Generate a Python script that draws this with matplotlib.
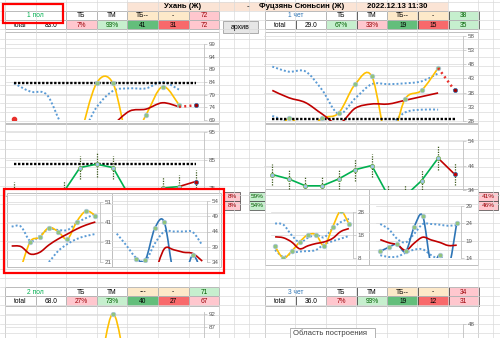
import numpy as np
import matplotlib
matplotlib.use("Agg")
import matplotlib.pyplot as plt
from matplotlib.patches import Rectangle, PathPatch
from matplotlib.path import Path

plt.rcParams['font.family'] = ['Liberation Sans', 'DejaVu Sans']
nan = np.nan

# ---- table data ----
header_texts = ['Ухань (Ж)', '-', 'Фуцзянь Сюньсин (Ж)', '2022.12.13 11:30']

t1_head = ['1 пол', 'ТБ', 'ТМ', 'ТБ--', '-', '72']
t1_row = ['total', '83.0', '7%', '93%', '41', '31', '72']
t2_head = ['1 чет', 'ТБ', 'ТМ', 'ТБ--', '-', '38']
t2_row = ['total', '29.0', '67%', '33%', '19', '15', '35']
t3_head = ['2 пол', 'ТБ', 'ТМ', '---', '-', '71']
t3_row = ['total', '68.0', '27%', '73%', '40', '27', '67']
t4_head = ['3 чет', 'ТБ', 'ТМ', 'ТБ--', '-', '34']
t4_row = ['total', '36.0', '7%', '93%', '19', '12', '31']

side_left = ['8%', '8%']
side_mid = ['59%', '54%']
side_right = ['41%', '46%']

# ---- chart data (category index 0..n-1) ----
# 1 пол, top
p1_level = 83.5
p1_band = [83.5, 80.2, 78.9, 66, 63, 74, 80.5, 81.5, 81.5, 84, 81, nan]
p1_yellow = [nan, nan, nan, nan, 62, 83.5, 83.5, 60, 71, 82.2, 75, nan]
p1_red = [nan, nan, nan, nan, nan, nan, 67, 72.5, 73.3, 75.8, 74.2, nan]
p1_red_dot = 69.3
p1_proj = [74.2, 74.8]

# 1 чет, top
p2_level = 28.6
p2_band_hi = [47.2, 45.4, 45.5, 39, 30.5, 36, 41, 41, 41.3, 42, 44.8, nan]
p2_band_lo = [29.8, 27.5, 24, 22, 21, 21, 22, 26, 31, 32, 32, nan]
p2_yellow = [20, 29, 24, 29, 30.8, 41, 43.8, 20, 35.7, 38.8, 46.7, nan]
p2_red = [38.8, 36.2, 34.5, 30.5, 27, 32.5, 34, 34, 35.3, 36.6, 37.9, nan]
p2_proj = [46.7, 38.8]

# 1 пол, middle
p3_level = 83.5
p3_green = [73, nan, nan, 73.5, 82.3, 83.5, 82.3, 72, 72, 75, 75.5]
p3_err = [4, nan, nan, 4, 4, 4.5, 4, nan, nan, 4, 4, 4]
p3_last = [75.5, 77.3]

# 1 чет, middle
p4_green = [40.3, 38.5, 35.7, 35.7, 38.5, 42.3, 44, 31.5, 31.5, 37.8, 47.0]
p4_err = [4.2, 4.2, 4.2, 4.2, 4.2, 4.5, 4.5, 4.5, 4.5, 4.5, 5, 4.5]
p4_last = [47.0, 40.4]

# lower row, small charts
pa_yellow = [nan, 18, 31.2, 33.3, 38.2, 36.2, 32.5, 41.2, 46.5, 44.2]
pa_red = [29, 28.7, 25, 25.8, 29.5, 32.5, 35, 37.5, 39.5, 41]
pa_hi = [38.7, 38.7, 31.5, 34, 37.5, 37, 37, 40.5, 43, 45]
pa_lo = [nan, nan, nan, 17, 21, 26.5, 30, 32.5, 34, 35]

pb_blue = [nan, nan, 35.1, 34.6, 45, 47.1, 30, 28, 36.2, 30]
pb_red = [nan, nan, nan, nan, 30, 38.3, 38, 37.2, 36.8, 34.3]
pb_hi = [43.3, 39.5, 35.5, 34.3, 40, 44, 44, 44, 43.8, 39.5]

pc_yellow = [13, 8, 10.9, 15, 18.1, 18.1, 13.3, 21.3, 28.3, 22.9]
pc_red = [17.2, 16.8, 15, 12, 13.3, 14.3, 15, 16.5, 19.5, 20.8]
pc_hi = [23, 22.5, 18, 14.8, 16.8, 18, 17, 20.8, 23.6, 25]
pc_lo = [11.5, 8.5, 10, 10.8, 11, 11.5, 14, 15.3, 16.4, 17.6]

pd_blue = [15.9, 17.1, 18, 15.9, 23, 26.1, 12, 14.9, 11, 24.1]
pd_red = [19.3, 18.4, 17.8, 16.2, 18.3, 20, 19.2, 18.5, 17.6, 17.7]
pd_hi = [23.8, 22.3, 19.5, 18.5, 21, 23.8, 23.8, 23.6, 23.3, 23.5]
pd_lo = [14.8, 14.3, 14.4, 15.5, 16.4, 16.5, 14.8, 13.5, 13, 13]

# 2 пол, bottom
p5_yellow = [nan, nan, nan, nan, nan, 62, 92, 62, nan, nan, nan, nan]

# colours
PEACH = '#fbe4d5'
CREAM = '#fde9c9'
PINK = '#ffc7ce'
PINK_TXT = '#9c0006'
LGREEN = '#c6efce'
LGREEN_TXT = '#006100'
GREEN = '#63be7b'
RED = '#f8696b'
YELLOW = '#ffc000'
DRED = '#c00000'
BLUE = '#5b9bd5'
DBLUE = '#2e75b6'
W, H = 500, 338

fig = plt.figure(figsize=(5, 3.38), dpi=100)
bg = fig.add_axes([0, 0, 1, 1])
bg.set_xlim(0, W)
bg.set_ylim(H, 0)
bg.axis('off')

# spreadsheet grid
cols = [5, 36, 66, 97, 127, 158, 189, 219, 234, 249, 265, 295, 326, 356, 387, 417, 448, 478, 493]
for c in cols:
    bg.plot([c, c], [0, H], color='#dadada', lw=0.5)
for k in range(38):
    y = 1.8 + 9.2 * k
    bg.plot([0, W], [y, y], color='#dadada', lw=0.5)


def cell(x0, x1, y0, y1, text, bg_col='white', color='black', bold=False, size=4.8):
    bg.add_patch(Rectangle((x0, y0), x1 - x0, y1 - y0, facecolor=bg_col,
                           edgecolor='#404040', lw=0.5))
    bg.text((x0 + x1) / 2, (y0 + y1) / 2 + 0.3, text, ha='center', va='center',
            fontsize=size, color=color, fontweight='bold' if bold else 'normal')


def table(x, y, head, row, head_bg, head_col, row_bg, row_col):
    """two-row score table, first header cell is merged"""
    w = 30.6
    hx = [x, x + 2 * w] + [x + (i + 3) * w for i in range(5)]
    for i, t in enumerate(head):
        cell(hx[i], hx[i + 1], y, y + 9.2, t, head_bg[i], head_col[i])
    for i, t in enumerate(row):
        cell(x + i * w, x + (i + 1) * w, y + 9.2, y + 18.4, t, row_bg[i], row_col[i])


# header band
bg.add_patch(Rectangle((127, 1.8), 321, 9.2, facecolor=PEACH, edgecolor='none'))
for t, xc, b in zip(header_texts, [183, 248, 302, 397], [True, False, True, True]):
    bg.text(xc, 6.6, t, ha='center', va='center', fontsize=5.6,
            fontweight='bold' if b else 'normal')

K = 'black'
table(5, 11, t1_head, t1_row,
      ['white', 'white', 'white', CREAM, CREAM, PINK], ['#00b050', K, K, K, K, PINK_TXT],
      ['white', 'white', PINK, LGREEN, GREEN, RED, PINK], [K, K, PINK_TXT, LGREEN_TXT, K, K, PINK_TXT])
table(265, 11, t2_head, t2_row,
      ['white', 'white', 'white', CREAM, CREAM, LGREEN], ['#2f75b5', K, K, K, K, LGREEN_TXT],
      ['white', 'white', LGREEN, PINK, GREEN, RED, LGREEN], [K, K, LGREEN_TXT, PINK_TXT, K, K, LGREEN_TXT])
table(5, 287.2, t3_head, t3_row,
      ['white', 'white', 'white', CREAM, CREAM, LGREEN], ['#00b050', K, K, K, K, LGREEN_TXT],
      ['white', 'white', PINK, LGREEN, GREEN, RED, PINK], [K, K, PINK_TXT, LGREEN_TXT, K, K, PINK_TXT])
table(265, 287.2, t4_head, t4_row,
      ['white', 'white', 'white', CREAM, CREAM, PINK], ['#2f75b5', K, K, K, K, PINK_TXT],
      ['white', 'white', PINK, LGREEN, GREEN, RED, PINK], [K, K, PINK_TXT, LGREEN_TXT, K, K, PINK_TXT])

# archive button
bg.add_patch(Rectangle((223, 21), 35, 12, facecolor='#e6e6e6', edgecolor='#a0a0a0', lw=0.6))
bg.text(240.5, 27.3, 'архив', ha='center', va='center', fontsize=5)

# side percentage boxes
for i in range(2):
    y0 = 192 + i * 9
    cell(224, 240, y0, y0 + 8.6, side_left[i], PINK, PINK_TXT, size=4.6)
    cell(249, 265, y0, y0 + 8.6, side_mid[i], LGREEN, LGREEN_TXT, size=4.6)
    cell(478, 498, y0, y0 + 8.6, side_right[i], PINK, PINK_TXT, size=4.6)

# chart frames
frames = [(5, 32, 219, 123), (265, 32, 478, 123), (5, 124, 219, 196), (265, 124, 478, 196),
          (7, 193, 112, 267), (112, 193, 221, 267), (265, 189, 369, 265), (369, 189, 478, 265),
          (5, 306, 219, 350), (265, 306, 478, 350)]
for x0, y0, x1, y1 in frames:
    bg.add_patch(Rectangle((x0, y0), x1 - x0, y1 - y0, facecolor='white',
                           edgecolor='#bfbfbf', lw=0.7))


def chart(x0, y0, x1, y1, ylim, ticks, n):
    ax = fig.add_axes([x0 / W, 1 - y1 / H, (x1 - x0) / W, (y1 - y0) / H])
    ax.set_xlim(-0.5, n - 0.5)
    ax.set_ylim(*ylim)
    ax.set_facecolor('none')
    for s in ['left', 'top', 'bottom']:
        ax.spines[s].set_visible(False)
    ax.spines['right'].set_color('#bfbfbf')
    ax.spines['right'].set_linewidth(0.6)
    ax.yaxis.tick_right()
    ax.set_yticks(ticks)
    ax.set_xticks([])
    ax.tick_params(axis='y', labelsize=4.5, labelcolor='#595959', color='#bfbfbf',
                   length=2, width=0.5, pad=1.5)
    ax.grid(axis='y', color='#d9d9d9', lw=0.5)
    ax.set_axisbelow(True)
    return ax


def smooth(ax, ys, **kw):
    """excel-like smoothed line, drawn as bezier curves between the points"""
    run = []
    for x, y in list(enumerate(ys)) + [(None, nan)]:
        if np.isnan(y):
            if len(run) > 1:
                verts = [run[0]]
                for i in range(len(run) - 1):
                    p0 = run[i - 1] if i > 0 else run[i]
                    p1, p2 = run[i], run[i + 1]
                    p3 = run[i + 2] if i + 2 < len(run) else p2
                    verts += [(p1[0] + (p2[0] - p0[0]) / 6, p1[1] + (p2[1] - p0[1]) / 6),
                              (p2[0] - (p3[0] - p1[0]) / 6, p2[1] - (p3[1] - p1[1]) / 6), p2]
                codes = [Path.MOVETO] + [Path.CURVE4] * (len(verts) - 1)
                ax.add_patch(PathPatch(Path(verts, codes), fill=False, **kw))
            run = []
        else:
            run.append((x, y))


dotted = dict(edgecolor=BLUE, lw=1.4, linestyle=(0, (1, 1.1)))
mk = dict(ls='none', marker='o', ms=3.3, mfc='#92c47d', mec='#a9c4e0', mew=0.5)
mk_g = dict(ls='none', marker='o', ms=3.0, mfc='#9dc3e6', mec='#70ad47', mew=0.5)
ebar = dict(colors='#3d5a1f', lw=0.9, linestyles=(0, (1, 1)))


def proj(ax, x, ys):
    ax.plot(x, ys, color='#e8302c', lw=1.8, ls=(0, (0.8, 1.3)))
    ax.plot(x[-1:], ys[-1:], ls='none', marker='o', ms=3, mfc='#a00000', mec=DBLUE, mew=0.5)


# top-left
ax = chart(5.75, 44, 203.75, 120, (69, 99), range(69, 100, 5), 12)
ax.plot([0, 11], [p1_level] * 2, color='black', lw=1.7, ls=(0, (1, 0.7)))
smooth(ax, p1_band, **dotted)
smooth(ax, p1_yellow, edgecolor=YELLOW, lw=1.2)
smooth(ax, p1_red, edgecolor=DRED, lw=1.2)
ax.plot(range(12), p1_yellow, **mk)
ax.plot([0], [p1_red_dot], ls='none', marker='o', ms=3, color='#e8302c')
proj(ax, [10, 11], p1_proj)

# top-right
ax = chart(264, 36, 463, 121, (28, 58), range(28, 59, 5), 12)
ax.plot([0, 11], [p2_level] * 2, color='black', lw=1.7, ls=(0, (1, 0.7)))
smooth(ax, p2_band_hi, **dotted)
smooth(ax, p2_band_lo, **dotted)
smooth(ax, p2_yellow, edgecolor=YELLOW, lw=1.2)
smooth(ax, p2_red, edgecolor=DRED, lw=1.2)
ax.plot(range(12), p2_yellow, **mk)
proj(ax, [10, 11], p2_proj)

# middle-left
ax = chart(5.75, 132, 203.75, 188, (75, 95), [75, 85, 95], 12)
ax.plot([0, 11], [p3_level] * 2, color='black', lw=1.7, ls=(0, (1, 0.7)))
g = np.array(p3_green + [p3_last[1]])
e = np.array(p3_err)
ax.vlines(range(12), g - e, g + e, **ebar)
ax.plot(range(11), p3_green, color='#00b050', lw=1.2)
ax.plot([10, 11], p3_last, color=DRED, lw=1.2)
ax.plot(range(11), p3_green, **mk_g)
ax.plot([11], p3_last[1:], ls='none', marker='o', ms=3, mfc='#c00000', mec=DBLUE, mew=0.5)

# middle-right
ax = chart(264, 141, 463, 190, (34, 54), [34, 44, 54], 12)
g = np.array(p4_green + [p4_last[1]])
e = np.array(p4_err)
ax.vlines(range(12), g - e, g + e, **ebar)
ax.plot(range(11), p4_green, color='#00b050', lw=1.2)
ax.plot([10, 11], p4_last, color=DRED, lw=1.2)
ax.plot(range(11), p4_green, **mk_g)
ax.plot([11], p4_last[1:], ls='none', marker='o', ms=3, mfc='#c00000', mec=DBLUE, mew=0.5)

# lower row
ax = chart(7, 202, 100, 262, (21, 51), [21, 31, 41, 51], 10)
smooth(ax, pa_hi, **dotted)
smooth(ax, pa_lo, **dotted)
smooth(ax, pa_yellow, edgecolor=YELLOW, lw=1.2)
smooth(ax, pa_red, edgecolor=DRED, lw=1.2)
ax.plot(range(2, 10), pa_yellow[2:], **mk)

ax = chart(112, 201, 207, 262, (34, 54), range(34, 55, 5), 10)
smooth(ax, pb_hi, **dotted)
smooth(ax, pb_blue, edgecolor=DBLUE, lw=1.2)
smooth(ax, pb_red, edgecolor=DRED, lw=1.2)
ax.plot([2, 3, 4, 5, 8], [pb_blue[i] for i in [2, 3, 4, 5, 8]], **mk)

ax = chart(271, 212, 353, 258, (8, 28), [8, 18, 28], 10)
smooth(ax, pc_hi, **dotted)
smooth(ax, pc_lo, **dotted)
smooth(ax, pc_yellow, edgecolor=YELLOW, lw=1.2)
smooth(ax, pc_red, edgecolor=DRED, lw=1.2)
ax.plot(range(10), pc_yellow, **mk)

ax = chart(376, 206, 461, 258, (14, 29), [14, 19, 24, 29], 10)
smooth(ax, pd_hi, **dotted)
smooth(ax, pd_lo, **dotted)
smooth(ax, pd_blue, edgecolor=DBLUE, lw=1.2)
smooth(ax, pd_red, edgecolor=DRED, lw=1.2)
ax.plot(range(10), pd_blue, **mk)

# bottom charts (cut off by the window), only the visible ticks
ax = chart(5.75, 312, 203.75, 394, (62, 92), [87, 92], 12)
smooth(ax, p5_yellow, edgecolor=YELLOW, lw=1.2)
ax.plot([6], [p5_yellow[6]], **mk)
ax.set_ylim(62, 92.6)

ax = chart(264, 324, 463, 404, (18, 48), [48], 12)

# overlay: red highlight boxes and tooltip
ov = fig.add_axes([0, 0, 1, 1])
ov.set_xlim(0, W)
ov.set_ylim(H, 0)
ov.axis('off')
ov.add_patch(Rectangle((3, 4), 60, 19, fill=False, edgecolor='#ff0000', lw=1.6))
ov.add_patch(Rectangle((4, 189), 220, 84, fill=False, edgecolor='#ff0000', lw=1.6))
ov.add_patch(Rectangle((290, 328), 85, 14, facecolor='white', edgecolor='#a6a6a6', lw=0.6))
ov.text(293, 333.5, 'Область построения', ha='left', va='center', fontsize=5.6, color='#404040')

fig.savefig('out.png', dpi=100)
